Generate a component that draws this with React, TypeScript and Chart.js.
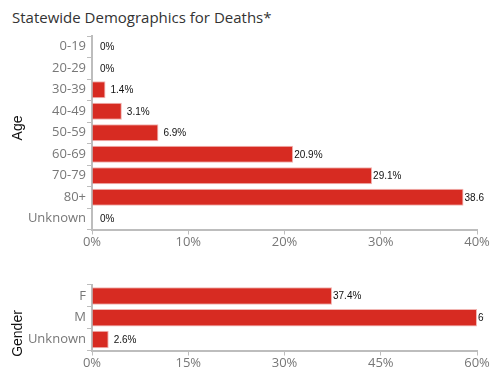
import React, { useEffect, useRef } from "react";
import { Chart, registerables } from "chart.js";

Chart.register(...registerables);

const ageCategories = ["0-19", "20-29", "30-39", "40-49", "50-59", "60-69", "70-79", "80+", "Unknown"];
const ageValues = [0, 0, 1.4, 3.1, 6.9, 20.9, 29.1, 38.6, 0];
const ageTicks = [0, 10, 20, 30, 40];

const genderCategories = ["F", "M", "Unknown"];
const genderValues = [37.4, 60.0, 2.6];
const genderTicks = [0, 15, 30, 45, 60];

const TITLE = "Statewide Demographics for Deaths*";
const BAR = "#d72b22";
const TICK_FONT = "'Open Sans', sans-serif";

const labelPlugin = {
  id: "valLabels",
  afterDatasetsDraw(chart: any, _args: any, opts: any) {
    const ctx = chart.ctx;
    const meta = chart.getDatasetMeta(0);
    const data = chart.data.datasets[0].data as number[];
    ctx.save();
    ctx.beginPath();
    ctx.rect(0, 0, 484, chart.height);
    ctx.clip();
    ctx.font = "10px Arial, 'Liberation Sans', sans-serif";
    ctx.fillStyle = "#111";
    ctx.textBaseline = "middle";
    ctx.textAlign = "left";
    meta.data.forEach((bar: any, i: number) => {
      const v = data[i];
      const txt = (v === 0 ? "0" : v.toFixed(1)) + "%";
      const x = v < 10 ? bar.x + 5 : bar.x + 1;
      ctx.fillText(txt, x + (v === 0 ? 3 : 0), bar.y + 0.5);
    });
    ctx.restore();

    // rotated axis title
    const t = chart.options.plugins.axisTitle;
    if (t) {
      ctx.save();
      ctx.translate(t.x, t.y);
      ctx.rotate(-Math.PI / 2);
      ctx.font = "14px Arial, 'Liberation Sans', sans-serif";
      ctx.fillStyle = "#111";
      ctx.textAlign = "center";
      ctx.textBaseline = "middle";
      ctx.fillText(t.text, 0, 0);
      ctx.restore();
    }
  },
};

function makeConfig(
  cats: string[],
  vals: number[],
  ticks: number[],
  axisTitle: string,
  titleY: number,
  top: number,
  xHeight: number
): any {
  const max = ticks[ticks.length - 1];
  return {
    type: "bar",
    data: {
      labels: cats,
      datasets: [
        {
          data: vals,
          backgroundColor: BAR,
          borderColor: "rgba(215,43,34,0.35)",
          borderWidth: 1,
          barPercentage: 0.8,
          categoryPercentage: 1,
        },
      ],
    },
    plugins: [labelPlugin],
    options: {
      indexAxis: "y",
      animation: false,
      responsive: false,
      maintainAspectRatio: false,
      layout: { padding: { top, right: 20, left: 0, bottom: 0 } },
      plugins: {
        legend: { display: false },
        tooltip: { enabled: false },
        title: { display: false },
        axisTitle: { text: axisTitle, x: 18, y: titleY },
      },
      scales: {
        x: {
          min: 0,
          max,
          afterFit(scale: any) {
            scale.height = xHeight;
          },
          afterBuildTicks(scale: any) {
            scale.ticks = ticks.map((v) => ({ value: v }));
          },
          border: { display: true, color: "#bdbdbd", width: 2 },
          grid: { display: true, drawOnChartArea: false, drawTicks: true, tickLength: 5, color: "#bdbdbd", lineWidth: 1 },
          ticks: {
            color: "#777",
            font: { family: TICK_FONT, size: 13 },
            padding: 0,
            maxRotation: 0,
            callback: (v: any) => v + "%",
          },
        },
        y: {
          afterFit(scale: any) {
            scale.width = 92;
          },
          border: { display: true, color: "#bdbdbd", width: 2 },
          grid: { display: true, drawOnChartArea: false, drawTicks: true, tickLength: 5, color: "#bdbdbd", lineWidth: 1 },
          ticks: {
            color: "#777",
            font: { family: TICK_FONT, size: 13 },
            padding: 1,
            autoSkip: false,
          },
          title: { display: false },
        },
      },
    },
  };
}

function BarChart(props: { cfg: any; width: number; height: number; top: number }) {
  const ref = useRef<HTMLCanvasElement | null>(null);
  useEffect(() => {
    if (!ref.current) return;
    const ch = new Chart(ref.current, props.cfg);
    return () => ch.destroy();
  }, []);
  return (
    <canvas
      ref={ref}
      width={props.width}
      height={props.height}
      style={{ position: "absolute", left: 0, top: props.top, width: props.width, height: props.height }}
    />
  );
}

export default function App() {
  const ageCfg = makeConfig(ageCategories, ageValues, ageTicks, "Age", 128, 36, 30.5);
  const genderCfg = makeConfig(genderCategories, genderValues, genderTicks, "Gender", 73.5, 25, 38.5);
  return (
    <div style={{ position: "absolute", left: 0, top: 0, width: 497, height: 389, background: "#fff" }}>
      <div
        style={{
          position: "absolute",
          left: 12,
          top: 6,
          fontFamily: TICK_FONT,
          fontSize: 15,
          color: "#333",
          whiteSpace: "nowrap",
          lineHeight: "22px",
        }}
      >
        {TITLE}
      </div>
      <BarChart cfg={ageCfg} width={497} height={260} top={0} />
      <BarChart cfg={genderCfg} width={497} height={129} top={260} />
    </div>
  );
}
